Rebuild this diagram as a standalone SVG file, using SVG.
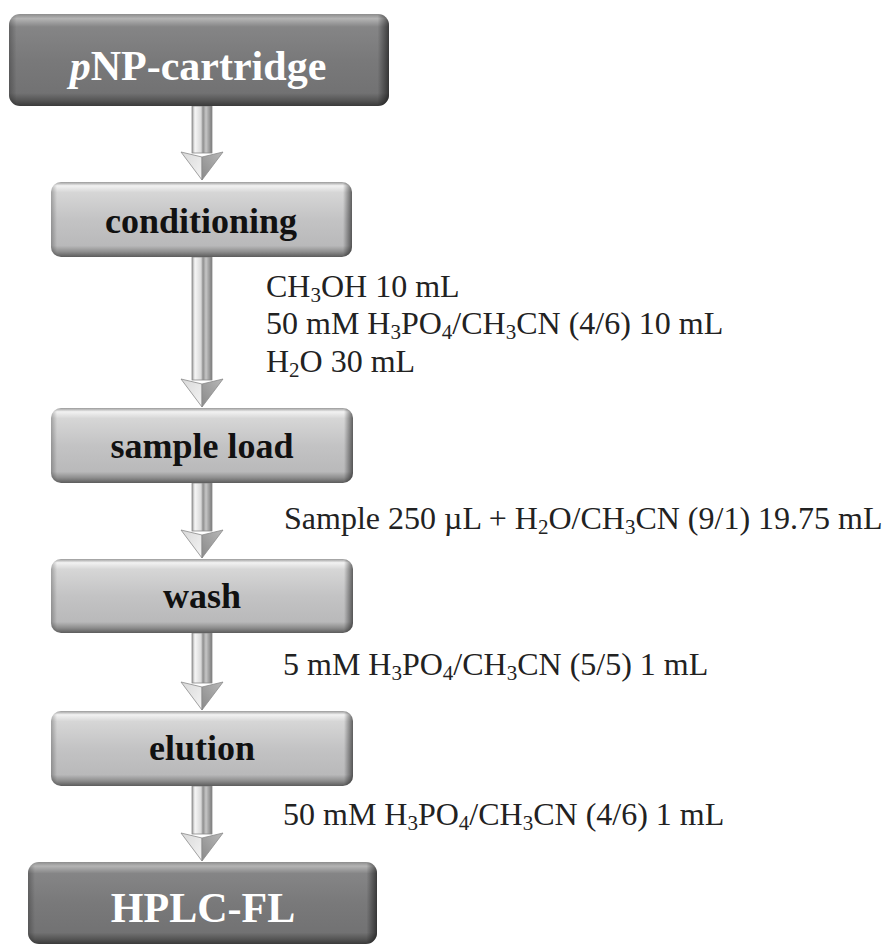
<svg xmlns="http://www.w3.org/2000/svg" width="885" height="946" viewBox="0 0 885 946">
<style>
.lbl{font-family:"Liberation Serif","Times New Roman",serif;font-weight:bold;text-anchor:middle}
.light{font-size:36px;fill:#111}
.dark{font-size:42px;fill:#fff}
.ann{font-family:"Liberation Serif","Times New Roman",serif;font-size:32px;fill:#222}
.sub{font-size:21px}
.arrow{stroke:#8a8a8a;stroke-width:0.8}
</style>
<defs>
<linearGradient id="gLight" x1="0" y1="0" x2="0" y2="1">
<stop offset="0" stop-color="#9a9a9a"/>
<stop offset="0.05" stop-color="#f2f2f2"/>
<stop offset="0.14" stop-color="#d6d6d6"/>
<stop offset="0.5" stop-color="#c3c3c4"/>
<stop offset="0.85" stop-color="#b9b9ba"/>
<stop offset="0.93" stop-color="#8e8e8e"/>
<stop offset="1" stop-color="#5c5c5c"/>
</linearGradient>
<linearGradient id="gDark" x1="0" y1="0" x2="0" y2="1">
<stop offset="0" stop-color="#8c8c8c"/>
<stop offset="0.05" stop-color="#b4b4b4"/>
<stop offset="0.14" stop-color="#858586"/>
<stop offset="0.5" stop-color="#79797a"/>
<stop offset="0.86" stop-color="#727273"/>
<stop offset="0.94" stop-color="#555"/>
<stop offset="1" stop-color="#3a3a3a"/>
</linearGradient>
<linearGradient id="gEdge" x1="0" y1="0" x2="1" y2="0">
<stop offset="0" stop-color="#000" stop-opacity="0.25"/>
<stop offset="0.02" stop-color="#000" stop-opacity="0"/>
<stop offset="0.97" stop-color="#000" stop-opacity="0"/>
<stop offset="1" stop-color="#000" stop-opacity="0.55"/>
</linearGradient>
<linearGradient id="gShaft" x1="0" y1="0" x2="1" y2="0">
<stop offset="0" stop-color="#9c9c9c"/>
<stop offset="0.15" stop-color="#f5f5f5"/>
<stop offset="0.45" stop-color="#d9d9d9"/>
<stop offset="0.55" stop-color="#8e8e8e"/>
<stop offset="0.7" stop-color="#c6c6c6"/>
<stop offset="1" stop-color="#7a7a7a"/>
</linearGradient>
<linearGradient id="gHeadL" x1="0" y1="0" x2="1" y2="1">
<stop offset="0" stop-color="#d8d8d8"/>
<stop offset="1" stop-color="#f4f4f4"/>
</linearGradient>
<linearGradient id="gHeadR" x1="1" y1="0" x2="0" y2="1">
<stop offset="0" stop-color="#b8b8b8"/>
<stop offset="1" stop-color="#8a8a8a"/>
</linearGradient>
</defs>

<g id="connectors">
<g id="arrow1" class="arrow">
<rect x="192" y="106" width="20" height="47" fill="url(#gShaft)"/>
<polygon points="181,152 202,157 202,180" fill="url(#gHeadL)"/>
<polygon points="223,152 202,157 202,180" fill="url(#gHeadR)"/>
</g>
<g id="arrow2" class="arrow">
<rect x="192" y="257" width="20" height="123" fill="url(#gShaft)"/>
<polygon points="181,379 202,384 202,407" fill="url(#gHeadL)"/>
<polygon points="223,379 202,384 202,407" fill="url(#gHeadR)"/>
</g>
<g id="arrow3" class="arrow">
<rect x="192" y="483" width="20" height="48" fill="url(#gShaft)"/>
<polygon points="181,530 202,535 202,558" fill="url(#gHeadL)"/>
<polygon points="223,530 202,535 202,558" fill="url(#gHeadR)"/>
</g>
<g id="arrow4" class="arrow">
<rect x="192" y="633" width="20" height="50" fill="url(#gShaft)"/>
<polygon points="181,682 202,687 202,710" fill="url(#gHeadL)"/>
<polygon points="223,682 202,687 202,710" fill="url(#gHeadR)"/>
</g>
<g id="arrow5" class="arrow">
<rect x="192" y="786" width="20" height="48" fill="url(#gShaft)"/>
<polygon points="181,833 202,838 202,861" fill="url(#gHeadL)"/>
<polygon points="223,833 202,838 202,861" fill="url(#gHeadR)"/>
</g>
</g>

<g id="node-pnp">
<rect x="9" y="14" width="380" height="92" rx="11" fill="url(#gDark)"/>
<rect x="9" y="14" width="380" height="92" rx="11" fill="url(#gEdge)"/>
<text class="lbl dark" x="198" y="80"><tspan font-style="italic">p</tspan>NP-cartridge</text>
</g>

<g id="node-conditioning">
<rect x="51" y="182" width="301" height="75" rx="10" fill="url(#gLight)"/>
<rect x="51" y="182" width="301" height="75" rx="10" fill="url(#gEdge)"/>
<text class="lbl light" x="201" y="233">conditioning</text>
</g>

<g id="node-sampleload">
<rect x="51" y="408" width="302" height="75" rx="10" fill="url(#gLight)"/>
<rect x="51" y="408" width="302" height="75" rx="10" fill="url(#gEdge)"/>
<text class="lbl light" x="202" y="458">sample load</text>
</g>

<g id="node-wash">
<rect x="51" y="559" width="302" height="74" rx="10" fill="url(#gLight)"/>
<rect x="51" y="559" width="302" height="74" rx="10" fill="url(#gEdge)"/>
<text class="lbl light" x="202" y="608">wash</text>
</g>

<g id="node-elution">
<rect x="51" y="711" width="302" height="75" rx="10" fill="url(#gLight)"/>
<rect x="51" y="711" width="302" height="75" rx="10" fill="url(#gEdge)"/>
<text class="lbl light" x="202" y="760">elution</text>
</g>

<g id="node-hplc">
<rect x="28" y="862" width="349" height="82" rx="11" fill="url(#gDark)"/>
<rect x="28" y="862" width="349" height="82" rx="11" fill="url(#gEdge)"/>
<text class="lbl dark" x="203" y="922">HPLC-FL</text>
</g>

<g id="annotations">
<text class="ann" x="266" y="297">CH<tspan class="sub" dy="5">3</tspan><tspan dy="-5">OH 10 mL</tspan></text>
<text class="ann" x="266" y="334">50 mM H<tspan class="sub" dy="5">3</tspan><tspan dy="-5">PO</tspan><tspan class="sub" dy="5">4</tspan><tspan dy="-5">/CH</tspan><tspan class="sub" dy="5">3</tspan><tspan dy="-5">CN (4/6) 10 mL</tspan></text>
<text class="ann" x="266" y="372">H<tspan class="sub" dy="5">2</tspan><tspan dy="-5">O 30 mL</tspan></text>
<text class="ann" x="284" y="529">Sample 250 µL + H<tspan class="sub" dy="5">2</tspan><tspan dy="-5">O/CH</tspan><tspan class="sub" dy="5">3</tspan><tspan dy="-5">CN (9/1) 19.75 mL</tspan></text>
<text class="ann" x="283" y="675">5 mM H<tspan class="sub" dy="5">3</tspan><tspan dy="-5">PO</tspan><tspan class="sub" dy="5">4</tspan><tspan dy="-5">/CH</tspan><tspan class="sub" dy="5">3</tspan><tspan dy="-5">CN (5/5) 1 mL</tspan></text>
<text class="ann" x="283" y="825">50 mM H<tspan class="sub" dy="5">3</tspan><tspan dy="-5">PO</tspan><tspan class="sub" dy="5">4</tspan><tspan dy="-5">/CH</tspan><tspan class="sub" dy="5">3</tspan><tspan dy="-5">CN (4/6) 1 mL</tspan></text>
</g>
</svg>
